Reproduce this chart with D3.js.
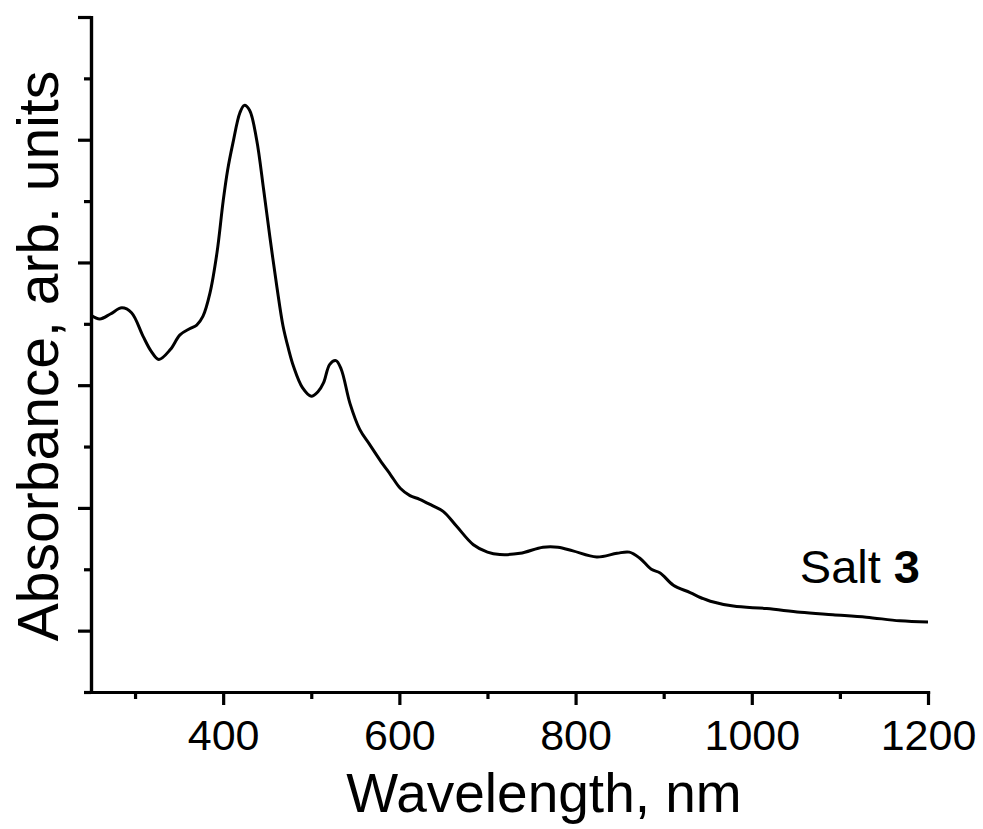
<!DOCTYPE html>
<html>
<head>
<meta charset="utf-8">
<script src="https://cdn.jsdelivr.net/npm/d3@7"></script>
<style>
  body { margin: 0; background: #fff; }
  text { font-family: "Liberation Sans", Arial, sans-serif; fill: #000; }
</style>
</head>
<body>
<svg id="chart" width="983" height="829"></svg>
<script>
// spectrum
var wavelength = [250, 260, 272, 285, 296, 309, 318, 327, 340, 351, 362, 370, 377, 385, 393,
  400, 405, 411, 419, 424, 430, 438, 446, 453, 461, 468, 474, 480, 490, 500, 508, 514, 521, 528,
  534, 544, 555, 566, 578, 590, 601, 612, 623, 637, 650, 665, 684, 700, 714, 737, 763, 780,
  797, 824, 847, 861, 873, 886, 896, 911, 930, 945, 953, 979, 1017, 1055, 1092, 1130, 1168, 1200];
var absorbance = [2.57, 2.54, 2.58, 2.63, 2.59, 2.40, 2.28, 2.21, 2.29, 2.41, 2.46, 2.49, 2.56, 2.75, 3.08,
  3.50, 3.75, 3.97, 4.22, 4.28, 4.24, 4.00, 3.59, 3.21, 2.80, 2.48, 2.30, 2.15, 1.98, 1.91, 1.95, 2.02, 2.17, 2.20,
  2.13, 1.85, 1.64, 1.52, 1.39, 1.27, 1.16, 1.10, 1.07, 1.02, 0.97, 0.85, 0.70, 0.64, 0.62, 0.63, 0.68, 0.68,
  0.65, 0.60, 0.63, 0.64, 0.59, 0.50, 0.47, 0.37, 0.31, 0.26, 0.24, 0.20, 0.18, 0.15, 0.13, 0.11, 0.08, 0.07];

var xMajor = [400, 600, 800, 1000, 1200];
var xMinor = [300, 500, 700, 900, 1100];
var yMajor = [0, 1, 2, 3, 4, 5];
var yMinor = [-0.5, 0.5, 1.5, 2.5, 3.5, 4.5];

var svg = d3.select("#chart");
// plot box (note: "top" is reserved on window, so use other names)
var PLOT_L = 91, PLOT_R = 928, PLOT_T = 17, PLOT_B = 692;

var x = d3.scaleLinear().domain([250, 1200]).range([PLOT_L, PLOT_R]);
var y = d3.scaleLinear().domain([-0.5, 5]).range([PLOT_B, PLOT_T]);

var styleAxis = function(g) {
  g.selectAll("path, line").attr("stroke", "#000").attr("stroke-width", 3.2);
  g.select(".domain").attr("stroke-linecap", "square");
};

// x axis
var gx = svg.append("g").attr("transform", "translate(0," + PLOT_B + ")")
  .call(d3.axisBottom(x).tickValues(xMajor).tickSize(13).tickSizeOuter(0).tickFormat(d3.format("d")));
gx.selectAll("text").attr("y", 58).attr("dy", 0).attr("font-size", 43)
  .style("font-family", "Liberation Sans, Arial, sans-serif");
svg.append("g").attr("transform", "translate(0," + PLOT_B + ")")
  .call(d3.axisBottom(x).tickValues(xMinor).tickSize(7).tickSizeOuter(0).tickFormat(""))
  .call(styleAxis);
gx.call(styleAxis);

// y axis, no labels
svg.append("g").attr("transform", "translate(" + PLOT_L + ",0)")
  .call(d3.axisLeft(y).tickValues(yMajor).tickSize(13).tickSizeOuter(0).tickFormat(""))
  .call(styleAxis);
svg.append("g").attr("transform", "translate(" + PLOT_L + ",0)")
  .call(d3.axisLeft(y).tickValues(yMinor).tickSize(7).tickSizeOuter(0).tickFormat(""))
  .call(styleAxis);

// spectrum
var line = d3.line()
  .x(function(d, i) { return x(wavelength[i]); })
  .y(function(d) { return y(d); })
  .curve(d3.curveCatmullRom.alpha(0.5));
svg.append("path")
  .datum(absorbance)
  .attr("d", line)
  .attr("fill", "none")
  .attr("stroke", "#000")
  .attr("stroke-width", 3)
  .attr("stroke-linejoin", "round");

// titles
svg.append("text")
  .attr("x", 544).attr("y", 812)
  .attr("text-anchor", "middle")
  .attr("font-size", 55)
  .text("Wavelength, nm");

svg.append("text")
  .attr("transform", "translate(58,356) rotate(-90)")
  .attr("text-anchor", "middle")
  .attr("font-size", 57)
  .text("Absorbance, arb. units");

var salt = svg.append("text")
  .attr("x", 920).attr("y", 583)
  .attr("text-anchor", "end")
  .attr("font-size", 47);
salt.append("tspan").text("Salt ");
salt.append("tspan").attr("font-weight", "bold").text("3");
</script>
</body>
</html>
